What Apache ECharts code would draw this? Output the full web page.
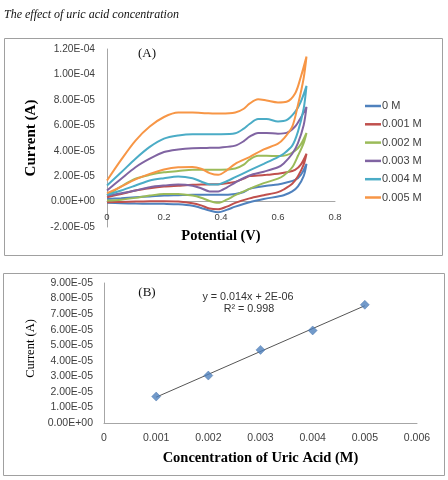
<!DOCTYPE html>
<html>
<head>
<meta charset="utf-8">
<script src="https://cdn.jsdelivr.net/npm/echarts@6/dist/echarts.min.js"></script>
<style>
  html, body { margin: 0; padding: 0; background: #fff; }
  #chart { width: 448px; height: 480px; }
</style>
</head>
<body>
<div id="chart"></div>
<script>
// (A) cyclic voltammograms, currents in units of 1E-5 A
const fwdPotential = [0, 0.05, 0.1, 0.15, 0.2, 0.25, 0.3, 0.35, 0.4, 0.45, 0.48, 0.5, 0.53, 0.56, 0.6, 0.63, 0.66, 0.68, 0.7];
const revPotential = [0.7, 0.69, 0.67, 0.65, 0.62, 0.6, 0.55, 0.5, 0.45, 0.42, 0.39, 0.36, 0.33, 0.3, 0.25, 0.2, 0.15, 0.1, 0.05, 0];

const cvNames = ["0 M", "0.001 M", "0.002 M", "0.003 M", "0.004 M", "0.005 M"];
const cvColors = ["#4F81BD", "#C0504D", "#9BBB59", "#8064A2", "#4BACC6", "#F79646"];

const fwd0 = [0.2, 0.27, 0.34, 0.4, 0.47, 0.5, 0.53, 0.53, 0.53, 0.6, 0.75, 1.0, 1.15, 1.25, 1.35, 1.5, 1.7, 2.1, 2.97];
const rev0 = [2.97, 2.0, 1.2, 0.8, 0.5, 0.4, 0.2, -0.05, -0.4, -0.65, -0.84, -0.7, -0.5, -0.32, -0.21, -0.18, -0.17, -0.16, -0.13, -0.1];
const fwd1 = [0.34, 0.6, 0.87, 1.05, 1.18, 1.25, 1.32, 1.35, 1.39, 1.55, 1.8, 2.0, 2.05, 2.1, 2.18, 2.3, 2.5, 2.9, 3.76];
const rev1 = [3.76, 2.9, 2.0, 1.4, 0.95, 0.74, 0.5, 0.25, -0.1, -0.4, -0.6, -0.55, -0.3, -0.13, 0.0, 0.03, 0.03, 0.0, -0.03, -0.05];
const fwd2 = [0.5, 1.2, 1.8, 2.1, 2.3, 2.4, 2.5, 2.5, 2.5, 2.6, 2.9, 3.3, 3.6, 3.6, 3.58, 3.65, 4.0, 4.5, 5.4];
const rev2 = [5.4, 4.6, 3.6, 2.7, 2.05, 1.8, 1.45, 1.0, 0.5, 0.15, -0.1, 0.05, 0.3, 0.47, 0.6, 0.6, 0.47, 0.29, 0.15, 0.08];
const fwd3 = [0.87, 1.8, 2.7, 3.37, 3.9, 4.1, 4.2, 4.22, 4.26, 4.4, 4.75, 5.1, 5.4, 5.4, 5.34, 5.4, 5.9, 6.6, 7.45];
const rev3 = [7.45, 6.0, 4.6, 3.76, 3.0, 2.7, 2.35, 2.05, 1.5, 1.1, 0.8, 0.8, 1.05, 1.25, 1.34, 1.26, 1.13, 0.87, 0.65, 0.47];
const fwd4 = [1.26, 2.3, 3.37, 4.3, 4.95, 5.2, 5.3, 5.3, 5.3, 5.37, 5.74, 6.1, 6.5, 6.5, 6.3, 6.4, 7.05, 7.85, 9.1];
const rev4 = [9.1, 7.3, 5.5, 4.4, 3.76, 3.5, 2.97, 2.45, 1.92, 1.6, 1.35, 1.35, 1.58, 1.84, 1.97, 1.84, 1.66, 1.26, 0.87, 0.53];
const fwd5 = [1.66, 3.3, 4.8, 5.9, 6.65, 7.0, 7.0, 6.95, 6.92, 7.0, 7.3, 7.7, 8.05, 7.95, 7.8, 7.85, 8.5, 9.8, 11.4];
const rev5 = [11.4, 9.7, 7.6, 5.9, 4.95, 4.55, 4.1, 3.5, 2.97, 2.45, 2.1, 2.24, 2.58, 2.72, 2.7, 2.53, 2.18, 1.74, 1.18, 0.66];

const cvFwd = [fwd0, fwd1, fwd2, fwd3, fwd4, fwd5];
const cvRev = [rev0, rev1, rev2, rev3, rev4, rev5];

// (B) calibration, currents in units of 1E-5 A
const concentration = [0.001, 0.002, 0.003, 0.004, 0.005];
const peakCurrent = [1.7, 3.05, 4.7, 5.95, 7.6];

const serif = '"Liberation Serif", "Times New Roman", serif';
const sans = '"Liberation Sans", Arial, sans-serif';

function sci(v) {
  if (v === 0) return "0.00E+00";
  let e = Math.floor(Math.log10(Math.abs(v)));
  let m = v / Math.pow(10, e);
  if (Math.abs(m) >= 9.995) { m /= 10; e += 1; }
  const ee = String(Math.abs(e)).padStart(2, "0");
  return m.toFixed(2) + "E" + (e < 0 ? "-" : "+") + ee;
}

// least squares trend line for panel B
const n = concentration.length;
const mx = concentration.reduce((a, b) => a + b, 0) / n;
const my = peakCurrent.reduce((a, b) => a + b, 0) / n;
let sxy = 0, sxx = 0;
for (let i = 0; i < n; i++) {
  sxy += (concentration[i] - mx) * (peakCurrent[i] - my);
  sxx += (concentration[i] - mx) * (concentration[i] - mx);
}
const slope = sxy / sxx;
const icept = my - slope * mx;
const xFirst = concentration[0], xLast = concentration[n - 1];

const axisGray = "#A6A6A6";
const labelColor = "#404040";

// top plot: y from -2 to 12 over 178px, x axis sits on the zero line
const topMin = -2, topMax = 12, topHeight = 178;
const zeroOffset = -(0 - topMin) / (topMax - topMin) * topHeight;

const cvSeries = cvNames.map((name, k) => ({
  name: name,
  type: "line",
  xAxisIndex: 0,
  yAxisIndex: 0,
  smooth: 0.3,
  showSymbol: false,
  lineStyle: { width: 2, color: cvColors[k] },
  itemStyle: { color: cvColors[k] },
  data: fwdPotential.map((x, i) => [x, cvFwd[k][i]])
    .concat(revPotential.map((x, i) => [x, cvRev[k][i]]))
}));

const chart = echarts.init(document.getElementById("chart"));

const options = {
  animation: false,
  graphic: [
    { type: "text", left: 4, top: 9,
      style: { text: "The effect of uric acid concentration", font: "italic 12px " + serif, fill: "#111" } },
    { type: "rect", shape: { x: 4.5, y: 38.5, width: 438, height: 217 },
      style: { fill: "none", stroke: "#A0A0A0", lineWidth: 1 }, z: -1 },
    { type: "rect", shape: { x: 3.5, y: 273.5, width: 441, height: 202 },
      style: { fill: "none", stroke: "#A0A0A0", lineWidth: 1 }, z: -1 },
    { type: "text", x: 147, y: 54,
      style: { text: "(A)", font: "13px " + serif, fill: "#111", align: "center", verticalAlign: "middle" } },
    { type: "text", x: 147, y: 293,
      style: { text: "(B)", font: "13px " + serif, fill: "#111", align: "center", verticalAlign: "middle" } },
    { type: "text", x: 248, y: 297,
      style: { text: "y = 0.014x + 2E-06", font: "10.8px " + sans, fill: "#333", align: "center", verticalAlign: "middle" } },
    { type: "text", x: 249, y: 309,
      style: { text: "R² = 0.998", font: "10.8px " + sans, fill: "#333", align: "center", verticalAlign: "middle" } }
  ],
  legend: {
    data: cvNames,
    orient: "vertical",
    left: 360,
    top: 95,
    icon: "rect",
    itemWidth: 16,
    itemHeight: 2.5,
    itemGap: 6.3,
    textStyle: { fontSize: 11, fontFamily: sans, color: labelColor, lineHeight: 12, padding: [0, 0, 0, -4] }
  },
  grid: [
    { left: 107, top: 49, right: 113, bottom: 253 },
    { left: 104, top: 283, right: 31, bottom: 57 }
  ],
  xAxis: [
    {
      gridIndex: 0,
      type: "value",
      min: 0,
      max: 0.8,
      interval: 0.2,
      offset: zeroOffset,
      name: "Potential (V)",
      nameLocation: "middle",
      nameGap: 27,
      nameTextStyle: { fontFamily: serif, fontWeight: "bold", fontSize: 14.5, color: "#000" },
      axisLine: { onZero: false, lineStyle: { color: axisGray } },
      axisTick: { show: false },
      splitLine: { show: false },
      axisLabel: { fontSize: 9.5, fontFamily: sans, color: labelColor, margin: 11 }
    },
    {
      gridIndex: 1,
      type: "value",
      min: 0,
      max: 0.006,
      interval: 0.001,
      name: "Concentration of Uric Acid (M)",
      nameLocation: "middle",
      nameGap: 28,
      nameTextStyle: { fontFamily: serif, fontWeight: "bold", fontSize: 14.5, color: "#000" },
      axisLine: { lineStyle: { color: axisGray } },
      axisTick: { show: false },
      splitLine: { show: false },
      axisLabel: {
        fontSize: 10.5, fontFamily: sans, color: labelColor, margin: 10,
        formatter: (v) => (v === 0 ? "0" : v.toFixed(3))
      }
    }
  ],
  yAxis: [
    {
      gridIndex: 0,
      type: "value",
      min: topMin,
      max: topMax,
      interval: 2,
      name: "Current (A)",
      nameLocation: "middle",
      nameGap: 68,
      nameTextStyle: { fontFamily: serif, fontWeight: "bold", fontSize: 15, color: "#000" },
      axisLine: { show: true, onZero: false, lineStyle: { color: axisGray } },
      axisTick: { show: false },
      splitLine: { show: false },
      axisLabel: {
        fontSize: 10.2, fontFamily: sans, color: labelColor, margin: 12,
        formatter: (v) => sci(v * 1e-5)
      }
    },
    {
      gridIndex: 1,
      type: "value",
      min: 0,
      max: 9,
      interval: 1,
      name: "Current (A)",
      nameLocation: "middle",
      nameGap: 67,
      nameTextStyle: { fontFamily: serif, fontSize: 12.5, color: "#000", padding: [0, 0, 0, 9] },
      axisLine: { show: true, lineStyle: { color: axisGray } },
      axisTick: { show: false },
      splitLine: { show: false },
      axisLabel: {
        fontSize: 10.5, fontFamily: sans, color: labelColor, margin: 11,
        formatter: (v) => sci(v * 1e-5)
      }
    }
  ],
  series: cvSeries.concat([
    {
      name: "trend",
      type: "line",
      xAxisIndex: 1,
      yAxisIndex: 1,
      showSymbol: false,
      silent: true,
      lineStyle: { width: 1, color: "#555" },
      data: [[xFirst, slope * xFirst + icept], [xLast, slope * xLast + icept]],
      z: 1
    },
    {
      name: "points",
      type: "scatter",
      xAxisIndex: 1,
      yAxisIndex: 1,
      symbol: "diamond",
      symbolSize: 9,
      itemStyle: { color: "#4F81BD", borderColor: "#3A6AA5", borderWidth: 0.5 },
      data: concentration.map((c, i) => [c, peakCurrent[i]]),
      z: 3
    }
  ])
};

chart.setOption(options);
</script>
</body>
</html>
